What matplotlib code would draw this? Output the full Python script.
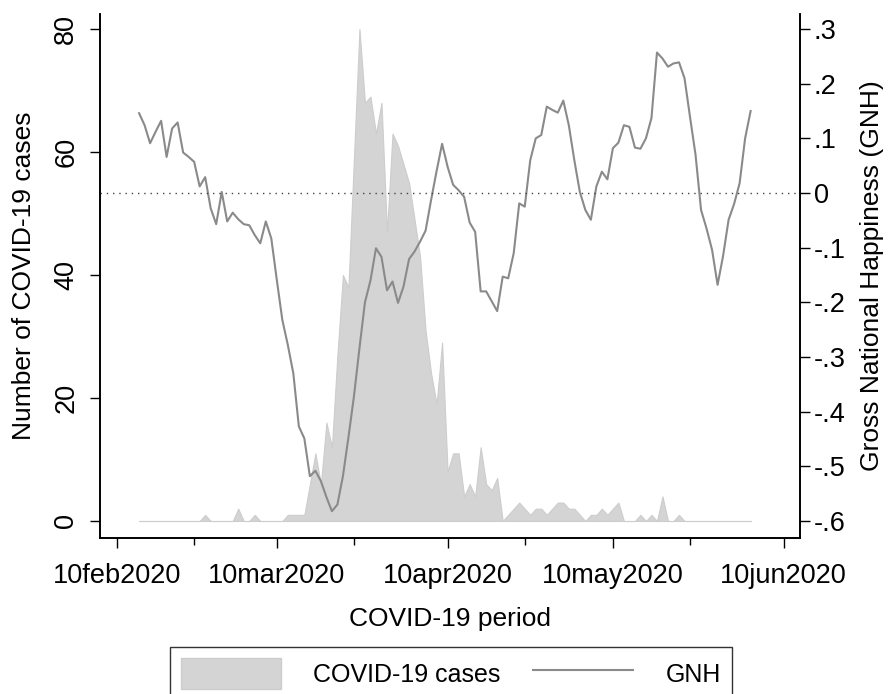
import matplotlib
matplotlib.use('Agg')
import matplotlib.pyplot as plt
import matplotlib.dates as mdates
from matplotlib.patches import Patch
from matplotlib.lines import Line2D
import pandas as pd

# ---- data (daily, starting 14feb2020) ----
start_date = '2020-02-14'
covid_cases = [
    0, 0, 0, 0, 0, 0, 0, 0, 0, 0, 0, 0,          # 14feb-25feb
    1, 0, 0, 0, 0, 0, 2, 0, 0, 1,                # 26feb-06mar
    0, 0, 0, 0, 0, 1, 1, 1, 1,                   # 07mar-15mar
    6, 11, 6, 16, 12, 27, 40, 38, 59, 80,        # 16mar-25mar
    68, 69, 63, 68, 47, 63, 61, 58, 55, 49,      # 26mar-04apr
    43, 31, 24, 19, 29, 8, 11, 11, 4, 6,         # 05apr-14apr
    4, 12, 6, 5, 7, 0, 1, 2, 3, 2,               # 15apr-24apr
    1, 2, 2, 1, 2, 3, 3, 2, 2, 1,                # 25apr-04may
    0, 1, 1, 2, 1, 2, 3, 0, 0, 0,                # 05may-14may
    1, 0, 1, 0, 4, 0, 0, 1, 0, 0,                # 15may-24may
    0, 0, 0, 0, 0, 0, 0, 0, 0, 0, 0,             # 25may-04jun
]
gnh = [
    0.146, 0.124, 0.091, 0.112, 0.132, 0.066, 0.118, 0.129, 0.074, 0.066,
    0.057, 0.012, 0.029, -0.028, -0.057, 0.002, -0.052, -0.036, -0.048, -0.057,
    -0.059, -0.077, -0.092, -0.052, -0.083, -0.159, -0.232, -0.278, -0.330, -0.427,
    -0.449, -0.518, -0.508, -0.527, -0.556, -0.582, -0.570, -0.518, -0.447, -0.372,
    -0.284, -0.200, -0.160, -0.101, -0.117, -0.178, -0.162, -0.201, -0.171, -0.121,
    -0.107, -0.089, -0.069, -0.013, 0.040, 0.090, 0.048, 0.015, 0.005, -0.007,
    -0.054, -0.071, -0.180, -0.180, -0.198, -0.216, -0.153, -0.156, -0.110, -0.019,
    -0.025, 0.060, 0.100, 0.106, 0.158, 0.152, 0.147, 0.169, 0.124, 0.060,
    0.002, -0.031, -0.049, 0.012, 0.039, 0.025, 0.082, 0.092, 0.124, 0.121,
    0.083, 0.081, 0.100, 0.137, 0.257, 0.246, 0.231, 0.237, 0.239, 0.210,
    0.139, 0.070, -0.031, -0.065, -0.104, -0.168, -0.115, -0.049, -0.020, 0.018,
    0.100, 0.150,
]
x_tick_dates = ['2020-02-10', '2020-03-10', '2020-04-10', '2020-05-10', '2020-06-10']
x_tick_labels = ['10feb2020', '10mar2020', '10apr2020', '10may2020', '10jun2020']
x_minor_dates = ['2020-02-24', '2020-03-24', '2020-04-24', '2020-05-24']
left_ticks = [0, 20, 40, 60, 80]
right_ticks = [-0.6, -0.5, -0.4, -0.3, -0.2, -0.1, 0.0, 0.1, 0.2, 0.3]
right_tick_labels = ['-.6', '-.5', '-.4', '-.3', '-.2', '-.1', '0', '.1', '.2', '.3']

dates = pd.date_range(start_date, periods=len(gnh), freq='D')

plt.rcParams['font.family'] = ['Liberation Sans', 'DejaVu Sans']
FS_TICK = 19.5
FS_LAB = 19
FS_LEG = 18

W, H = 895, 694
fig = plt.figure(figsize=(W / 100, H / 100), dpi=100)
ax = fig.add_axes([100 / W, (H - 538) / H, 700 / W, (538 - 14) / H])
ax2 = ax.twinx()

area_color = '#d4d4d4'
line_color = '#8a8a8a'

ax.fill_between(dates, 0, covid_cases, facecolor=area_color, edgecolor='#cdcdcd', lw=0.8)
ax2.plot(dates, gnh, color=line_color, lw=1.5)
ax2.axhline(0, color='#444444', lw=1.0, ls=(0, (1, 3.5)))

ref = mdates.date2num(pd.Timestamp('2020-02-10'))
ax.set_xlim(ref - 3.09, ref + 123.96)

ax.set_ylim(-(538 - 521) / 6.15, 80 + (29 - 14) / 6.15)
ax2.set_ylim(-0.6 - 17 / 547, 0.3 + 15 / 547)

ax.set_xticks([pd.Timestamp(d) for d in x_tick_dates])
ax.set_xticklabels(x_tick_labels, fontsize=FS_TICK)
ax.set_xticks([pd.Timestamp(d) for d in x_minor_dates], minor=True)
ax.tick_params(axis='x', which='major', length=7, width=1, direction='out', pad=11)
ax.tick_params(axis='x', which='minor', length=5, width=1, direction='out')

ax.set_yticks(left_ticks)
ax.set_yticklabels([str(v) for v in left_ticks], fontsize=FS_TICK, rotation=90, va='center')
ax.tick_params(axis='y', length=7, width=1, direction='out', pad=8)

ax2.set_yticks(right_ticks)
ax2.set_yticklabels(right_tick_labels, fontsize=FS_TICK)
ax2.tick_params(axis='y', length=7, width=1, direction='out', pad=3)

for a in (ax, ax2):
    a.spines['top'].set_visible(False)
    for s in ('left', 'right', 'bottom'):
        a.spines[s].set_linewidth(1.2)
        a.spines[s].set_color('black')

ax.set_ylabel('Number of COVID-19 cases', fontsize=FS_LAB, labelpad=12)
ax2.set_ylabel('Gross National Happiness (GNH)', fontsize=FS_LAB, rotation=90, labelpad=10)
ax.set_xlabel('COVID-19 period', fontsize=FS_LAB, labelpad=13)

handles = [Patch(facecolor=area_color, edgecolor='#cdcdcd'),
           Line2D([0], [0], color=line_color, lw=1.5)]
labels = ['COVID-19 cases', 'GNH']
leg = fig.legend(handles, labels, loc='upper center', bbox_to_anchor=(451 / W, 1 - 647 / H),
                 ncol=2, fontsize=FS_LEG, frameon=True, fancybox=False, edgecolor='black',
                 handlelength=4.0, handleheight=1.5, columnspacing=1.3, handletextpad=1.3,
                 borderpad=0.45, borderaxespad=0)
leg.get_frame().set_linewidth(1.0)

fig.savefig('out.png', dpi=100)
